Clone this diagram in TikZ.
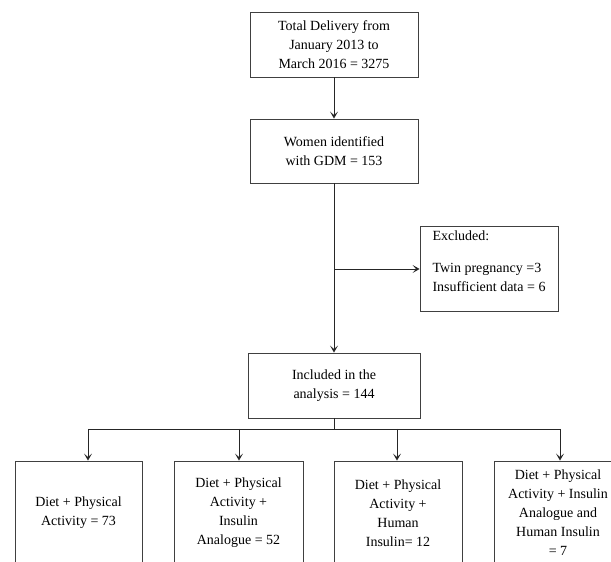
\documentclass[tikz,border=0pt]{standalone}
\usepackage{fontspec}
\setmainfont{Liberation Serif}
\usetikzlibrary{arrows.meta}
\begin{document}
\begin{tikzpicture}[x=1pt,y=1pt,
    every node/.style={font=\fontsize{14}{19}\selectfont},
    box/.style={draw=black!75,line width=0.9pt,align=center,inner sep=2pt},
    topbox/.style={box,minimum width=168pt,minimum height=65pt},
    armbox/.style={box,minimum height=104pt},
    link/.style={draw=black!85,line width=0.8pt},
    arr/.style={link,-{Stealth[length=7pt,width=8pt,inset=3.5pt]}}]
      \useasboundingbox (0,0) rectangle (611,562);
      \path
        (334,517.5) node[topbox] (total){Total Delivery from\\January 2013 to\\March 2016 = 3275}
        (334,411) node[topbox,minimum height=64pt] (gdm){Women identified\\with GDM = 153}
        (489,293.5) node[box,align=left,minimum width=138pt,minimum height=85pt] (excl){Excluded:\\[13pt]Twin pregnancy =3\\Insufficient data = 6\\[-5pt]\mbox{}}
        (334,176.5) node[topbox,minimum width=172pt] (incl){Included in the\\analysis = 144}
        (78.5,49) node[armbox,minimum width=127pt] (diet){Diet + Physical\\Activity = 73}
        (238.5,49) node[armbox,minimum width=129pt] (analog){Diet + Physical\\Activity +\\Insulin\\Analogue = 52}
        (398,49) node[armbox,minimum width=128pt] (human){Diet + Physical\\Activity +\\Human\\Insulin= 12}
        (558,49) node[armbox,minimum width=128pt] (both){Diet + Physical\\Activity + Insulin\\Analogue and\\Human Insulin\\= 7};
      \coordinate (split) at (334,293);
      \coordinate (fork) at (334,133);
      \coordinate (bar1) at (88,133);
      \coordinate (bar2) at (239,133);
      \coordinate (bar3) at (397,133);
      \coordinate (bar4) at (560,133);
      \begin{scope}[arr]
        \draw (total) to (gdm);
        \draw (gdm) to (incl);
        \draw (split) to (split -| excl.west);
        \draw (bar1) to (bar1 |- diet.north);
        \draw (bar2) to (bar2 |- analog.north);
        \draw (bar3) to (bar3 |- human.north);
        \draw (bar4) to (bar4 |- both.north);
      \end{scope}
      \draw[link] (incl) -- (fork);
      \draw[link] (bar1) -- (bar4);
    \end{tikzpicture}
\end{document}
